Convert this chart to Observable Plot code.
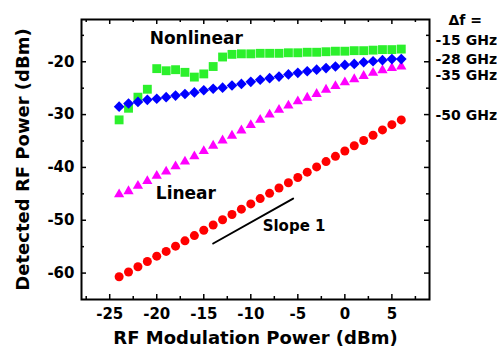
<!DOCTYPE html>
<html><head><meta charset="utf-8">
<script src="https://cdn.jsdelivr.net/npm/d3@7"></script>
<script src="https://cdn.jsdelivr.net/npm/@observablehq/plot@0.6"></script>
<style>html,body{margin:0;padding:0;background:#fff;}</style>
</head><body><div id="chart"></div>
<script>
// RF modulation power (dBm)
const modPower = [-24,-23,-22,-21,-20,-19,-18,-17,-16,-15,-14,-13,-12,-11,-10,-9,-8,-7,-6,-5,-4,-3,-2,-1,0,1,2,3,4,5,6];
// Detected RF power (dBm) for each detuning
const df15 = [-31.0,-28.8,-26.7,-25.2,-21.3,-21.7,-21.5,-22.0,-22.9,-22.3,-20.9,-19.1,-18.6,-18.5,-18.5,-18.4,-18.4,-18.4,-18.3,-18.3,-18.2,-18.2,-18.1,-18.0,-18.0,-17.9,-17.9,-17.8,-17.7,-17.7,-17.6];
const df28 = [-28.5,-27.9,-27.6,-27.2,-27.0,-26.7,-26.4,-26.1,-25.8,-25.4,-25.1,-24.9,-24.5,-24.2,-23.8,-23.4,-23.1,-22.8,-22.4,-22.1,-21.8,-21.5,-21.2,-20.9,-20.6,-20.4,-20.1,-19.9,-19.7,-19.5,-19.5];
const df35 = [-45.1,-44.5,-43.5,-42.6,-41.6,-40.8,-39.8,-38.9,-37.9,-36.9,-35.9,-34.9,-34.0,-33.0,-32.0,-31.0,-30.0,-29.1,-28.3,-27.5,-26.8,-26.1,-25.3,-24.6,-23.9,-23.3,-22.7,-22.1,-21.6,-21.2,-20.9];
const df50 = [-60.7,-59.8,-58.8,-57.8,-56.8,-55.9,-54.9,-53.9,-52.9,-51.9,-50.9,-49.9,-48.9,-47.9,-46.9,-45.9,-44.9,-43.9,-42.9,-41.9,-40.9,-39.9,-38.9,-37.9,-36.9,-35.9,-34.9,-33.9,-32.9,-31.9,-31.0];

const xMajorTicks = [-25,-20,-15,-10,-5,0,5];
const xMinorTicks = [-27.5,-22.5,-17.5,-12.5,-7.5,-2.5,2.5,7.5];
const yMajorTicks = [-60,-50,-40,-30,-20];
const yMinorTicks = [-55,-45,-35,-25,-15];

const seriesLabels = ["-15 GHz","-28 GHz","-35 GHz","-50 GHz"];
const seriesLabelY = [-16.0,-19.6,-22.6,-30.2];

const slopeX = [-14,-5.5];
const slopeY = [-54.4,-45.9];

const W = 497, H = 354, mL = 81, mR = 68, mT = 19, mB = 55;
const innerH = H - mT - mB, innerW = W - mL - mR;

const rows = (ys) => modPower.map((x, i) => ({x, y: ys[i]}));
const FONT = "DejaVu Sans";

const chart = Plot.plot({
  width: W, height: H,
  marginLeft: mL, marginRight: mR, marginTop: mT, marginBottom: mB,
  x: {domain: [-28, 9]},
  y: {domain: [-65, -12]},
  style: {fontFamily: FONT, fontWeight: "bold", fontSize: "15px", color: "black", background: "white", overflow: "visible"},
  marks: [
    // ticks (inward, all four sides)
    Plot.ruleX(xMajorTicks, {x: d => d, insetTop: innerH - 5, stroke: "black", strokeWidth: 1.5}),
    Plot.ruleX(xMinorTicks, {x: d => d, insetTop: innerH - 3, stroke: "black", strokeWidth: 1.5}),
    Plot.ruleX(xMajorTicks, {x: d => d, insetBottom: innerH - 5, stroke: "black", strokeWidth: 1.5}),
    Plot.ruleX(xMinorTicks, {x: d => d, insetBottom: innerH - 3, stroke: "black", strokeWidth: 1.5}),
    Plot.ruleY(yMajorTicks, {y: d => d, insetRight: innerW - 5, stroke: "black", strokeWidth: 1.5}),
    Plot.ruleY(yMinorTicks, {y: d => d, insetRight: innerW - 3, stroke: "black", strokeWidth: 1.5}),
    Plot.ruleY(yMajorTicks, {y: d => d, insetLeft: innerW - 5, stroke: "black", strokeWidth: 1.5}),
    Plot.ruleY(yMinorTicks, {y: d => d, insetLeft: innerW - 3, stroke: "black", strokeWidth: 1.5}),
    Plot.axisX({ticks: xMajorTicks, tickSize: 0, tickPadding: 9, tickFormat: d => String(d), label: null, fontSize: 15, fontWeight: "bold"}),
    Plot.axisY({ticks: yMajorTicks, tickSize: 0, tickPadding: 7, tickFormat: d => String(d), label: null, fontSize: 15, fontWeight: "bold"}),
    Plot.frame({stroke: "black", strokeWidth: 2}),
    // data
    Plot.dot(rows(df50), {x: "x", y: "y", symbol: "circle", r: 4.5, fill: "#ff0000"}),
    Plot.dot(rows(df35), {x: "x", y: "y", symbol: "triangle", r: 3.8, fill: "#ff00ff"}),
    Plot.dot(rows(df15), {x: "x", y: "y", symbol: "square", r: 5, fill: "#2cf02c"}),
    Plot.dot(rows(df28), {x: "x", y: "y", symbol: "diamond2", r: 4.8, fill: "#0000ff"}),
    // slope reference line
    Plot.line(slopeX.map((x, i) => ({x, y: slopeY[i]})), {x: "x", y: "y", stroke: "black", strokeWidth: 2}),
    // annotations
    Plot.text(["Nonlinear"], {x: -15.8, y: -15.6, fontSize: 17, fontWeight: "bold", fontFamily: FONT, fill: "black"}),
    Plot.text(["Linear"], {x: -16.9, y: -45.0, fontSize: 17, fontWeight: "bold", fontFamily: FONT, fill: "black"}),
    Plot.text(["Slope 1"], {x: -5.4, y: -51.1, fontSize: 15, fontWeight: "bold", fontFamily: FONT, fill: "black"}),
    Plot.text(seriesLabels, {y: (d, i) => seriesLabelY[i], frameAnchor: "right", textAnchor: "start", dx: 6, fontSize: 14, fontWeight: "bold", fontFamily: FONT, fill: "black"}),
    Plot.text(["\u0394f ="], {frameAnchor: "top-right", textAnchor: "start", dx: 19, dy: -4, fontSize: 14, fontWeight: "bold", fontFamily: FONT, fill: "black"}),
    // axis titles
    Plot.text(["RF Modulation Power (dBm)"], {frameAnchor: "bottom", textAnchor: "middle", dy: 44, fontSize: 18, fontWeight: "bold", fontFamily: FONT, fill: "black"}),
    Plot.text(["Detected RF Power (dBm)"], {frameAnchor: "left", textAnchor: "middle", dx: -58, rotate: -90, fontSize: 18, fontWeight: "bold", fontFamily: FONT, fill: "black"})
  ]
});
document.getElementById("chart").appendChild(chart);
</script>
</body></html>
